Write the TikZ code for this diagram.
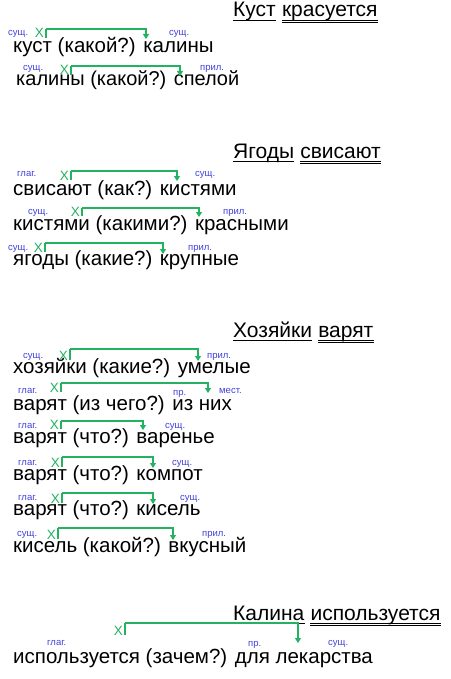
\documentclass[tikz,border=0pt]{standalone}
\usepackage{fontspec}
\setmainfont{Liberation Sans}
\usetikzlibrary{arrows.meta}
\definecolor{lgreen}{RGB}{34,178,96}
\definecolor{lblue}{RGB}{64,64,220}
\tikzset{
  txt/.style={inner sep=0pt, anchor=base west, font=\fontsize{20.5}{24}\selectfont},
  txts/.style={inner sep=0pt, anchor=base west, font=\fontsize{20}{24}\selectfont},
  hd/.style={inner sep=0pt, anchor=base west, font=\fontsize{21}{24}\selectfont},
  lbl/.style={inner sep=0pt, anchor=base west, text=lblue, font=\fontsize{9.5}{10}\selectfont},
  xmark/.style={inner sep=0pt, anchor=base east, text=lgreen, font=\fontsize{13.5}{15}\selectfont},
  brk/.style={draw=lgreen, line width=1.3pt},
  brkarr/.style={draw=lgreen, line width=1.3pt, -{Triangle[length=5pt,width=6pt]}},
  ul/.style={line width=0.9pt}
}
% #1 name, #2 x vertical, #3 y top, #4 y bottom of left, #5 x end, #6 y arrow tip
\newcommand\mylink[6]{%
  \node[xmark] (#1x) at (#2-2,#4) {X};
  \coordinate (#1s) at (#2,#4);
  \coordinate (#1c) at (#2,#3);
  \coordinate (#1e) at (#5,#6);
  \draw[brk] (#1s) -- (#1c);
  \draw[brkarr] (#1c) -| (#1e);
}
% heading: #1 name, #2 x, #3 baseline, #4 subject, #5 predicate
\newcommand\myhead[5]{%
  \node[hd] (#1s) at (#2,#3) {#4};
  \node[hd] (#1p) at ([xshift=5.8pt]#1s.base east) {#5};
  \draw[ul] ([yshift=-3.5pt]#1s.base west) -- ([yshift=-3.5pt]#1s.base east);
  \draw[ul] ([yshift=-3.2pt]#1p.base west) -- ([yshift=-3.2pt]#1p.base east);
  \draw[ul] ([yshift=-5.6pt]#1p.base west) -- ([yshift=-5.6pt]#1p.base east);
}
\begin{document}
\begin{tikzpicture}[x=1pt,y=-1pt]
\useasboundingbox (0,0) rectangle (450,679);
% Section 1
\myhead{h1}{233}{17}{Куст}{красуется}
\node[txt] (t1) at (13,53) {куст (какой?) калины};
\node[lbl] (a1) at (8,36) {сущ.};
\node[lbl] (b1) at (169,36) {сущ.};
\mylink{l1}{46}{29}{38}{146}{39}
\node[txts] (t2) at (16,86) {калины (какой?) спелой};
\node[lbl] (a2) at (23,71) {сущ.};
\node[lbl] (b2) at (200,71) {прил.};
\mylink{l2}{71}{66}{75}{180}{76}
% Section 2
\myhead{h2}{233}{158}{Ягоды}{свисают}
\node[txt] (t3) at (13,195) {свисают (как?) кистями};
\node[lbl] (a3) at (17,176) {глаг.};
\node[lbl] (b3) at (195,176) {сущ.};
\mylink{l3}{71}{171}{180}{177}{181}
\node[txt] (t4) at (13,230) {кистями (какими?) красными};
\node[lbl] (a4) at (28,214) {сущ.};
\node[lbl] (b4) at (223,214) {прил.};
\mylink{l4}{82}{208}{216}{199}{217}
\node[txt] (t5) at (13,265) {ягоды (какие?) крупные};
\node[lbl] (a5) at (8,250) {сущ.};
\node[lbl] (b5) at (188,250) {прил.};
\mylink{l5}{45}{243}{252}{163}{254}
% Section 3
\myhead{h3}{233}{337}{Хозяйки}{варят}
\node[txt] (t6) at (13,373) {хозяйки (какие?) умелые};
\node[lbl] (a6) at (23,358) {сущ.};
\node[lbl] (b6) at (207,358) {прил.};
\mylink{l6}{70}{349}{360}{198}{361}
\node[txt] (t7) at (13,410) {варят (из чего?) из них};
\node[lbl] (a7) at (18,393) {глаг.};
\node[lbl] (c7) at (173,395) {пр.};
\node[lbl] (b7) at (219,393) {мест.};
\mylink{l7}{61}{383}{392}{208}{393}
\node[txt] (t8) at (13,443) {варят (что?) варенье};
\node[lbl] (a8) at (18,428) {глаг.};
\node[lbl] (b8) at (165,428) {сущ.};
\mylink{l8}{61}{421}{429}{143}{430}
\node[txt] (t9) at (13,480) {варят (что?) компот};
\node[lbl] (a9) at (18,465) {глаг.};
\node[lbl] (b9) at (172,465) {сущ.};
\mylink{l9}{62}{457}{467}{153}{468}
\node[txt] (t10) at (13,515) {варят (что?) кисель};
\node[lbl] (a10) at (18,500) {глаг.};
\node[lbl] (b10) at (180,500) {сущ.};
\mylink{l10}{62}{493}{503}{153}{504}
\node[txt] (t11) at (13,552) {кисель (какой?) вкусный};
\node[lbl] (a11) at (17,536) {сущ.};
\node[lbl] (b11) at (202,536) {прил.};
\mylink{l11}{58}{528}{539}{173}{540}
% Section 4
\myhead{h4}{233}{620}{Калина}{используется}
\node[txt] (t12) at (13,663) {используется (зачем?) для лекарства};
\node[lbl] (a12) at (47,645) {глаг.};
\node[lbl] (c12) at (248,646) {пр.};
\node[lbl] (b12) at (328,645) {сущ.};
\mylink{l12}{125}{623}{635}{298}{643}
\end{tikzpicture}
\end{document}
